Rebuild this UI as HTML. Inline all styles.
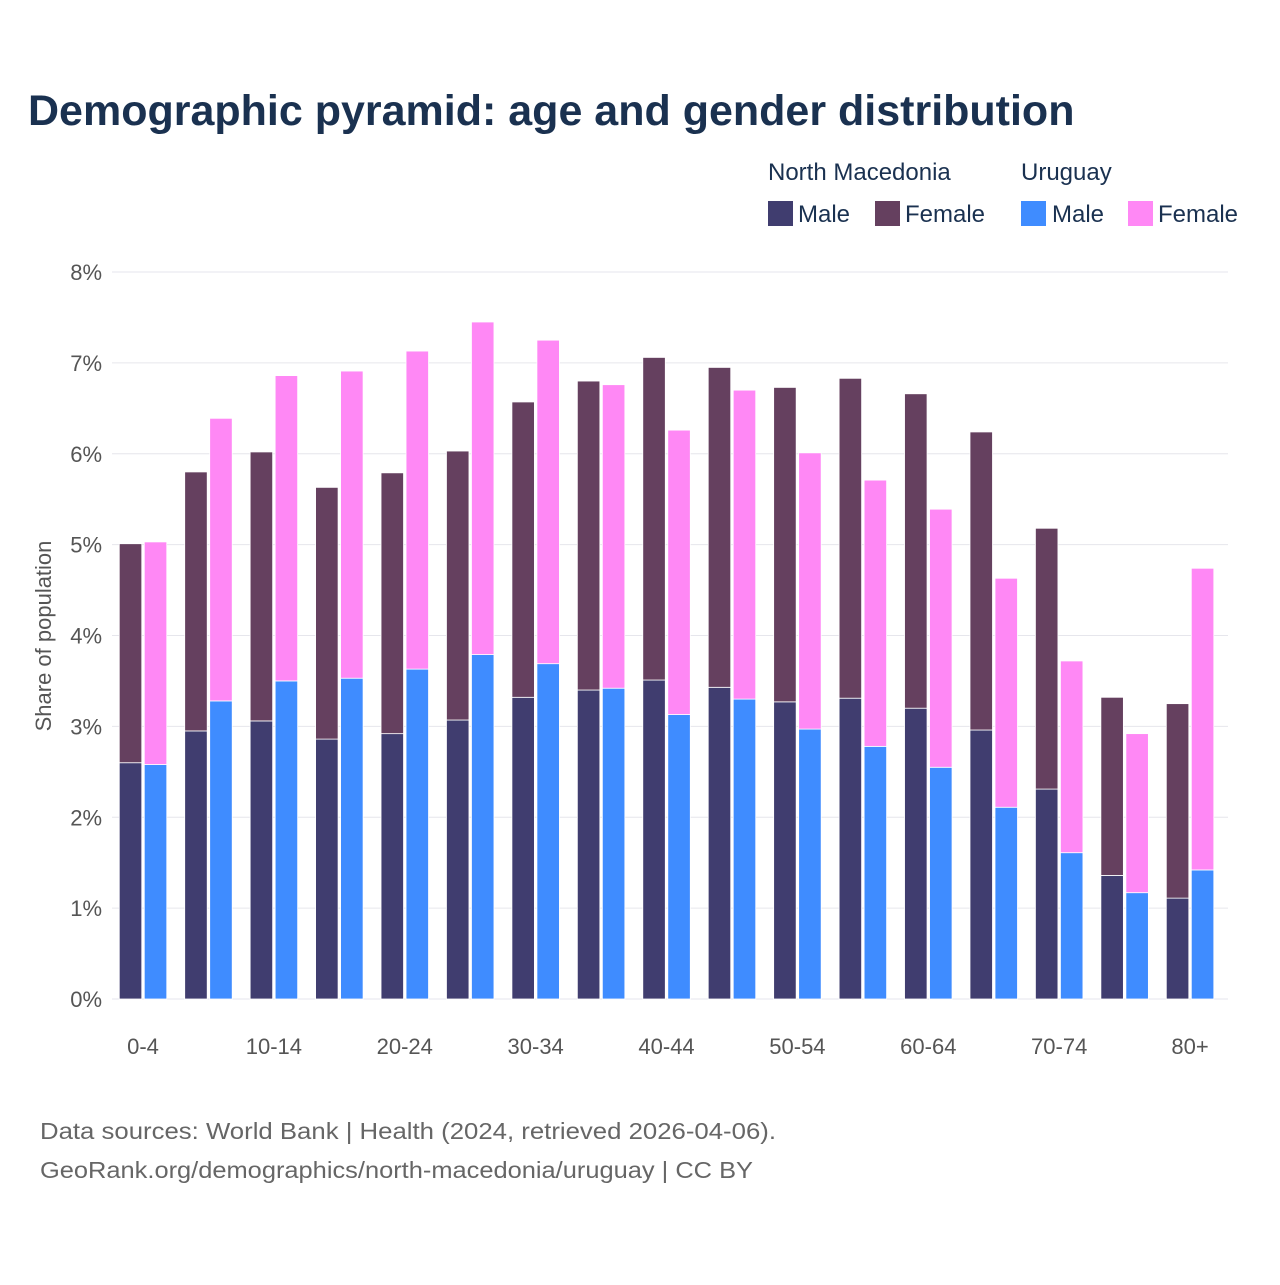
<!DOCTYPE html>
<html><head><meta charset="utf-8"><style>
body{margin:0;background:#fff;width:1280px;height:1280px;overflow:hidden;font-family:"Liberation Sans",sans-serif}
</style></head><body>
<svg id="chart" width="1280" height="1280" xmlns="http://www.w3.org/2000/svg" font-family="Liberation Sans, sans-serif">
<text x="28" y="125" font-size="43" font-weight="bold" fill="#1a3150">Demographic pyramid: age and gender distribution</text>
<g font-size="24" fill="#1a3150">
<text x="768" y="180">North Macedonia</text>
<text x="1021" y="180">Uruguay</text>
<rect x="768" y="201" width="25" height="25" fill="#403d6f"/>
<text x="798" y="222">Male</text>
<rect x="875" y="201" width="25" height="25" fill="#65405f"/>
<text x="905" y="222">Female</text>
<rect x="1021" y="201" width="25" height="25" fill="#3f8cff"/>
<text x="1052" y="222">Male</text>
<rect x="1128" y="201" width="25" height="25" fill="#ff88f5"/>
<text x="1158" y="222">Female</text>
</g>
<g id="grid"></g><g id="bars"></g><g id="xt"></g>
<text transform="translate(51,636) rotate(-90)" text-anchor="middle" font-size="22" fill="#555">Share of population</text>
<text x="40" y="1139" font-size="23" fill="#666" textLength="736" lengthAdjust="spacingAndGlyphs">Data sources: World Bank | Health (2024, retrieved 2026-04-06).</text>
<text x="40" y="1178" font-size="23" fill="#666" textLength="713" lengthAdjust="spacingAndGlyphs">GeoRank.org/demographics/north-macedonia/uruguay | CC BY</text>
</svg>
<script>
const categories=["0-4","5-9","10-14","15-19","20-24","25-29","30-34","35-39","40-44","45-49","50-54","55-59","60-64","65-69","70-74","75-79","80+"];
const nmMale=[2.60,2.95,3.06,2.86,2.92,3.07,3.32,3.40,3.51,3.43,3.27,3.31,3.20,2.96,2.31,1.36,1.11];
const nmFemale=[2.41,2.85,2.96,2.77,2.87,2.96,3.25,3.40,3.55,3.52,3.46,3.52,3.46,3.28,2.87,1.96,2.14];
const uyMale=[2.58,3.28,3.50,3.53,3.63,3.79,3.69,3.42,3.13,3.30,2.97,2.78,2.55,2.11,1.61,1.17,1.42];
const uyFemale=[2.45,3.11,3.36,3.38,3.50,3.66,3.56,3.34,3.13,3.40,3.04,2.93,2.84,2.52,2.11,1.75,3.32];
const yTicks=[0,1,2,3,4,5,6,7,8];
const NS="http://www.w3.org/2000/svg";
const x0=110.3,step=65.44,bw=22.5,gap=2.5;
const y=v=>999-v*90.875;
const gx=i=>x0+i*step+step/2;
function mk(tag,attrs,parent){const e=document.createElementNS(NS,tag);for(const k in attrs)e.setAttribute(k,attrs[k]);parent.appendChild(e);return e;}
const grid=document.getElementById('grid'),bars=document.getElementById('bars'),xt=document.getElementById('xt');
yTicks.forEach(t=>{
 const l=mk('line',{x1:112,x2:1228,y1:y(t),y2:y(t),stroke:'#e6e6ec','stroke-width':1},grid);
 
 
 const tx=mk('text',{x:102,y:y(t)+8,'text-anchor':'end','font-size':22,fill:'#555'},grid);
 tx.textContent=t+'%';
 
 
});
function bar(x,v0,v1,color,name){
 const r=mk('rect',{x:x,y:y(v1),width:bw,height:y(v0)-y(v1),fill:color,stroke:'#fff','stroke-width':0.8},bars);
 
 
}
categories.forEach((c,i)=>{
 const cx=gx(i);
 const xa=cx-gap/2-bw, xb=cx+gap/2;
 bar(xa,0,nmMale[i],'#403d6f','bar-nm-male-'+c);
 bar(xa,nmMale[i],nmMale[i]+nmFemale[i],'#65405f','bar-nm-female-'+c);
 bar(xb,0,uyMale[i],'#3f8cff','bar-uy-male-'+c);
 bar(xb,uyMale[i],uyMale[i]+uyFemale[i],'#ff88f5','bar-uy-female-'+c);
 if(i%2===0){
  const t=mk('text',{x:cx,y:1054,'text-anchor':'middle','font-size':22,fill:'#555'},xt);
  t.textContent=c;
  
  
 }
});
</script>
</body></html>
